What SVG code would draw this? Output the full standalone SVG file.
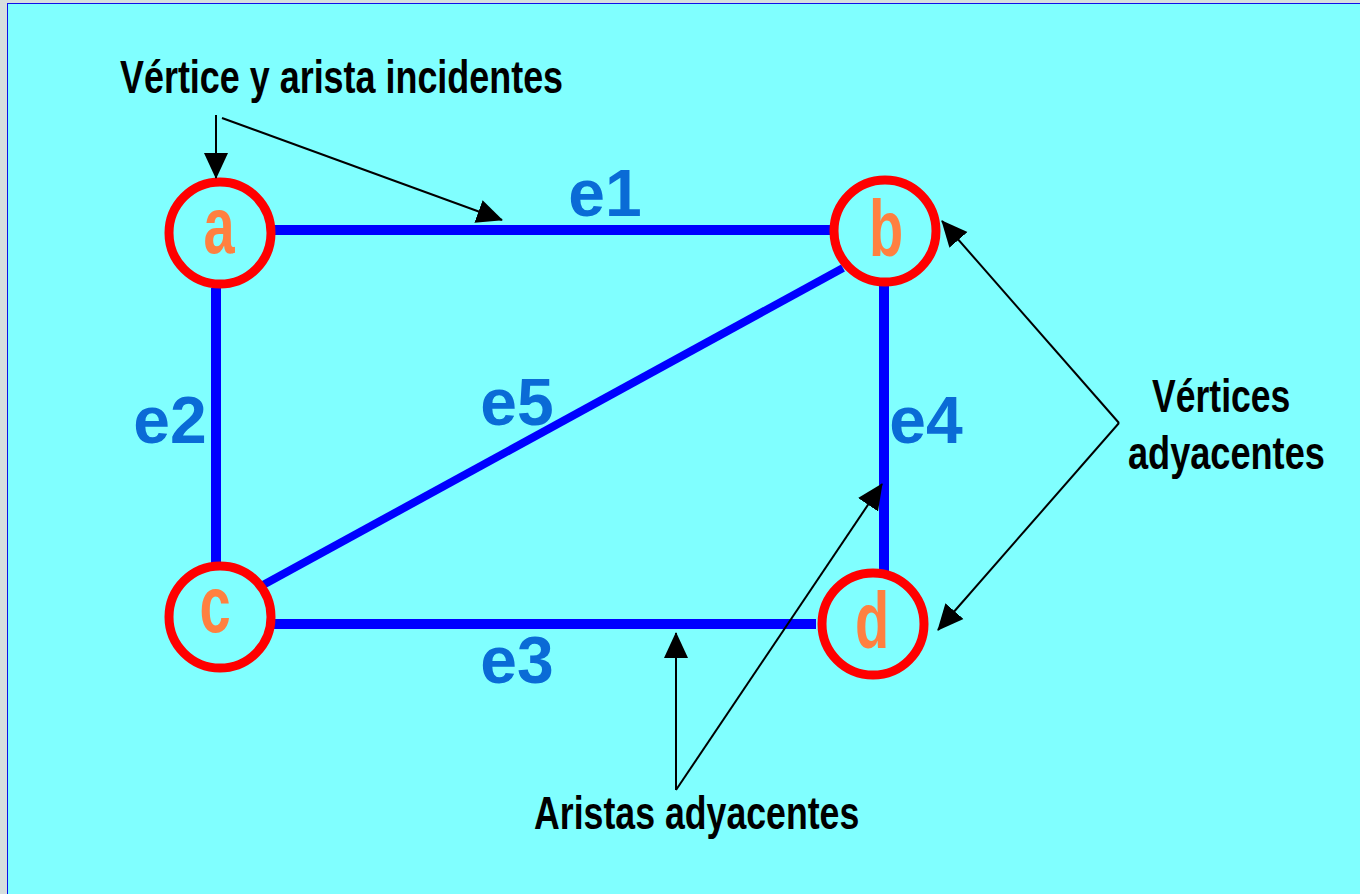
<svg xmlns="http://www.w3.org/2000/svg" width="1360" height="894" viewBox="0 0 1360 894">
<style>
.bg{fill:#80FFFF}
.edge{stroke:#0000FF;stroke-width:10;fill:none}
.vtx{fill:none;stroke:#FF0000;stroke-width:9}
.vl{font-family:"Liberation Sans",Arial,sans-serif;font-weight:bold;font-size:80px;fill:#FF8040;text-anchor:middle}
.el{font-family:"Liberation Sans",Arial,sans-serif;font-weight:bold;font-size:66px;fill:#0A6BD6;text-anchor:middle}
.note{font-family:"Liberation Sans",Arial,sans-serif;font-weight:bold;font-size:47px;fill:#000}
.ptr{stroke:#000;stroke-width:2;fill:none;marker-end:url(#ah)}
</style>
<defs>
<marker id="ah" viewBox="0 0 26 26" refX="25" refY="13" markerWidth="26" markerHeight="26" markerUnits="userSpaceOnUse" orient="auto">
<path d="M0,1 L26,13 L0,25 z" fill="#000"/>
</marker>
</defs>
<rect x="0" y="0" width="1360" height="894" fill="#D6DEDE"/>
<rect x="7" y="3" width="1353" height="891" fill="#1010E8"/>
<rect class="bg" x="8" y="4" width="1352" height="890"/>

<g id="edges">
<line class="edge" x1="272" y1="230" x2="836" y2="230"/>
<line class="edge" x1="216" y1="288" x2="216" y2="566"/>
<line class="edge" x1="884" y1="286" x2="884" y2="572"/>
<line class="edge" x1="272" y1="624" x2="816" y2="624"/>
<line class="edge" style="stroke-width:8" x1="263" y1="585" x2="843" y2="268"/>
</g>

<g id="node-a"><circle class="vtx" cx="220" cy="233" r="51"/><text class="vl" transform="translate(219,253) scale(0.7,1)">a</text></g>
<g id="node-b"><circle class="vtx" cx="885" cy="231" r="51"/><text class="vl" transform="translate(886,256) scale(0.7,1)">b</text></g>
<g id="node-c"><circle class="vtx" cx="220" cy="617" r="51"/><text class="vl" transform="translate(215,632) scale(0.7,1)">c</text></g>
<g id="node-d"><circle class="vtx" cx="873" cy="624" r="51"/><text class="vl" transform="translate(872,648) scale(0.7,1)">d</text></g>

<g id="edge-labels">
<text class="el" x="605" y="216">e1</text>
<text class="el" x="170" y="443">e2</text>
<text class="el" x="517" y="683">e3</text>
<text class="el" x="926" y="443">e4</text>
<text class="el" x="517" y="425">e5</text>
</g>

<g id="pointers">
<line class="ptr" x1="216" y1="115" x2="216" y2="178"/>
<line class="ptr" x1="222" y1="118" x2="502" y2="220"/>
<line class="ptr" x1="1119" y1="423" x2="942" y2="221"/>
<line class="ptr" x1="1119" y1="423" x2="938" y2="630"/>
<line class="ptr" x1="676" y1="790" x2="676" y2="633"/>
<line class="ptr" x1="676" y1="790" x2="882" y2="484"/>
</g>

<g id="notes">
<text class="note" transform="translate(120,93) scale(0.76,1)" textLength="583" lengthAdjust="spacingAndGlyphs">Vértice y arista incidentes</text>
<text class="note" transform="translate(1152,412) scale(0.76,1)" textLength="182" lengthAdjust="spacingAndGlyphs">Vértices</text>
<text class="note" transform="translate(1128,469) scale(0.76,1)" textLength="259" lengthAdjust="spacingAndGlyphs">adyacentes</text>
<text class="note" transform="translate(534,829) scale(0.76,1)" textLength="428" lengthAdjust="spacingAndGlyphs">Aristas adyacentes</text>
</g>
</svg>
